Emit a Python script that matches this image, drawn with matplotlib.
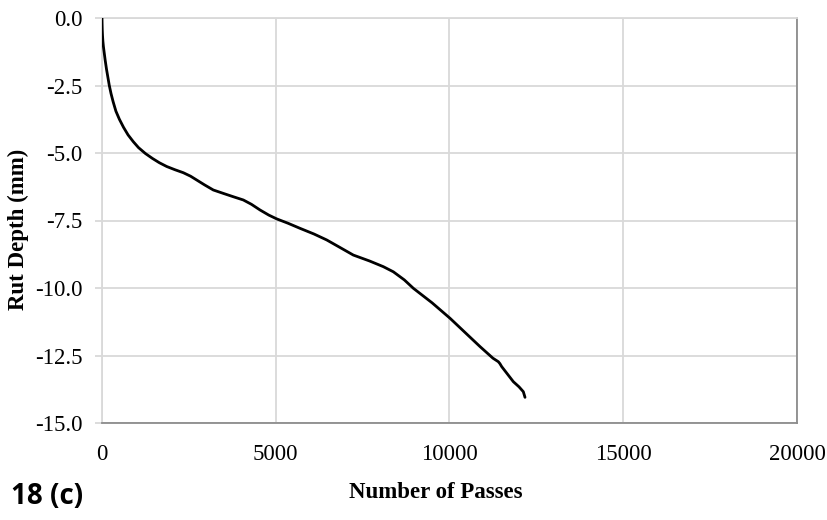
import matplotlib
matplotlib.use("Agg")
import matplotlib.pyplot as plt

# Rut depth measured against number of wheel passes
passes = [0, 3, 8, 15, 25, 40, 60, 90, 130, 170, 210, 260, 320, 400, 500,
          620, 750, 900, 1050, 1250, 1450, 1650, 1862, 2100, 2340, 2550,
          2725, 2950, 3203, 3500, 3779, 4067, 4300, 4547, 4800, 5027, 5350,
          5698, 6100, 6466, 6850, 7232, 7700, 8096, 8384, 8700, 8959, 9500,
          10014, 10450, 10878, 11250, 11405, 11450, 11501, 11837, 12000,
          12124, 12173]
rut_depth = [0.0, -0.2, -0.45, -0.65, -0.85, -1.05, -1.25, -1.55, -1.9, -2.2,
             -2.5, -2.8, -3.1, -3.45, -3.75, -4.05, -4.33, -4.58, -4.8, -5.02,
             -5.2, -5.36, -5.5, -5.62, -5.73, -5.86, -6.0, -6.18, -6.37, -6.5,
             -6.62, -6.74, -6.9, -7.11, -7.3, -7.44, -7.6, -7.79, -8.0, -8.22,
             -8.5, -8.78, -9.0, -9.21, -9.4, -9.7, -10.01, -10.55, -11.12,
             -11.65, -12.17, -12.6, -12.73, -12.8, -12.91, -13.47, -13.66,
             -13.84, -14.05]

x_ticks = [0, 5000, 10000, 15000, 20000]
y_ticks = [0.0, -2.5, -5.0, -7.5, -10.0, -12.5, -15.0]

serif = ["Liberation Serif", "DejaVu Serif"]

fig = plt.figure(figsize=(8.28, 5.2), dpi=100)
ax = fig.add_axes([102 / 828, 1 - 423 / 520, 695 / 828, 405 / 520])

ax.plot(passes, rut_depth, color="black", lw=2.0, solid_joinstyle="round",
        solid_capstyle="round", zorder=3)

ax.set_xlim(0, 20000)
ax.set_ylim(-15, 0)
ax.set_xticks(x_ticks)
ax.set_yticks(y_ticks)
ax.set_xticklabels([f"{t}" for t in x_ticks], fontfamily=serif, fontsize=16.5)
ax.set_yticklabels([f"{t:.1f}" for t in y_ticks], fontfamily=serif,
                   fontsize=16.5)

ax.grid(True, color="#d9d9d9", lw=1.3, zorder=0)
ax.set_axisbelow(True)
ax.tick_params(axis="y", length=5, width=1.3, color="#d9d9d9", pad=9)
ax.tick_params(axis="x", length=0, pad=15)

for side in ("left", "top"):
    ax.spines[side].set_color("#d9d9d9")
    ax.spines[side].set_linewidth(1.3)
for side in ("bottom", "right"):
    ax.spines[side].set_color("#8c8c8c")
    ax.spines[side].set_linewidth(1.3)

fig.text(18 / 828, 1 - 229 / 520, "Rut Depth (mm)", fontfamily=serif,
         fontsize=16.5, fontweight="bold", rotation=90, ha="center",
         va="center")
fig.text(436 / 828, 1 - 493 / 520, "Number of Passes", fontfamily=serif,
         fontsize=16.5, fontweight="bold", ha="center", va="center")
fig.text(11 / 828, 1 - 497 / 520, "18 (c)",
         fontfamily=["Open Sans", "DejaVu Sans"], fontsize=20,
         fontweight="bold", ha="left", va="center")

fig.savefig("out.png", dpi=100, facecolor="white")
